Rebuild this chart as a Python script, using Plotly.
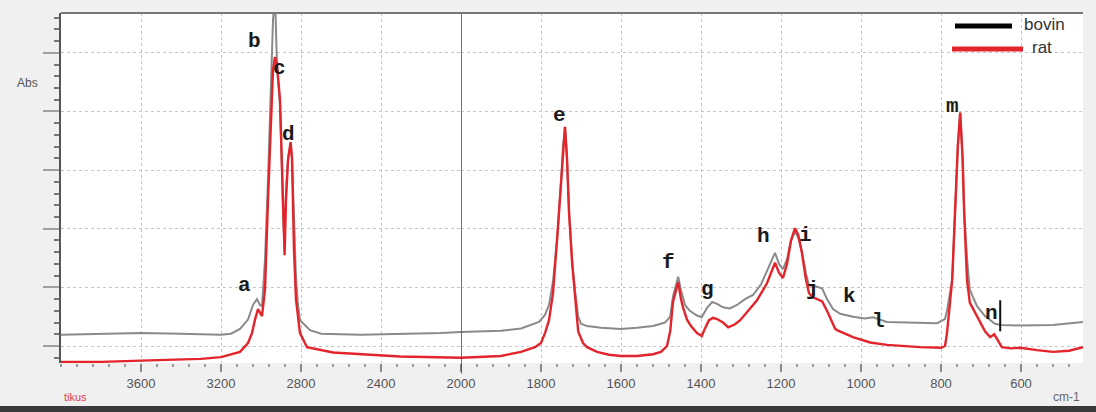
import plotly.graph_objects as go

# FTIR absorbance spectra (wavenumber in cm-1, absorbance)
bovin_wn = [4000, 3800, 3600, 3400, 3300, 3200, 3150, 3105, 3065, 3040, 3020, 3005, 2995,
            2980, 2965, 2950, 2940, 2930, 2920, 2905, 2895, 2887, 2882, 2875, 2865, 2852,
            2845, 2835, 2825, 2815, 2805, 2755, 2700, 2500, 2300, 2100, 2000,
            1900, 1850, 1827, 1805, 1790, 1780, 1770, 1760, 1750, 1745, 1740, 1735, 1730,
            1722, 1715, 1707, 1700, 1685, 1650, 1600, 1560, 1520, 1490, 1477, 1470, 1457,
            1450, 1440, 1428, 1410, 1398, 1385, 1372, 1360, 1345, 1328, 1310, 1290, 1270,
            1250, 1235, 1215, 1205, 1195, 1185, 1175, 1165, 1157, 1148, 1138, 1130, 1120,
            1105, 1097, 1085, 1070, 1052, 1020, 990, 970, 935, 852, 810, 790, 785, 772,
            765, 758, 752, 746, 742, 735, 728, 710, 690, 665, 650, 600, 520, 480, 445]
bovin_abs = [0.119, 0.120, 0.122, 0.121, 0.120, 0.119, 0.121, 0.129, 0.145, 0.170, 0.180, 0.170, 0.168,
             0.247, 0.383, 0.554, 0.656, 0.699, 0.580, 0.510, 0.400, 0.300, 0.290, 0.360, 0.420, 0.445,
             0.420, 0.300, 0.215, 0.170, 0.144, 0.127, 0.121, 0.119, 0.120, 0.122, 0.124,
             0.126, 0.130, 0.136, 0.141, 0.153, 0.170, 0.210, 0.280, 0.380, 0.440, 0.474, 0.420, 0.329,
             0.245, 0.195, 0.150, 0.138, 0.134, 0.131, 0.129, 0.131, 0.134, 0.140, 0.150, 0.185, 0.218,
             0.195, 0.170, 0.160, 0.152, 0.149, 0.165, 0.175, 0.172, 0.166, 0.164, 0.170, 0.180, 0.187,
             0.205, 0.228, 0.259, 0.240, 0.231, 0.248, 0.280, 0.295, 0.285, 0.262, 0.225, 0.203, 0.203,
             0.200, 0.198, 0.180, 0.163, 0.155, 0.150, 0.147, 0.149, 0.141, 0.139, 0.139, 0.146, 0.160, 0.213,
             0.327, 0.440, 0.498, 0.420, 0.327, 0.250, 0.196, 0.168, 0.151, 0.138, 0.136, 0.135, 0.136, 0.138, 0.141]

rat_wn = [4000, 3800, 3600, 3400, 3300, 3200, 3105, 3065, 3045, 3030, 3015, 2995, 2980,
          2965, 2950, 2940, 2930, 2920, 2905, 2895, 2887, 2882, 2875, 2865, 2852, 2845,
          2835, 2825, 2805, 2770, 2640, 2305, 2000,
          1900, 1850, 1815, 1800, 1790, 1780, 1770, 1760, 1750, 1745, 1740, 1735, 1730,
          1722, 1715, 1707, 1695, 1685, 1660, 1630, 1600, 1560, 1520, 1500, 1485, 1477,
          1470, 1457, 1450, 1445, 1435, 1425, 1410, 1398, 1390, 1380, 1370, 1360, 1345,
          1332, 1315, 1302, 1260, 1235, 1215, 1205, 1195, 1185, 1175, 1165, 1157, 1148,
          1138, 1130, 1120, 1105, 1097, 1085, 1077, 1065, 1060, 1020, 977, 935, 852, 800,
          790, 785, 772, 765, 758, 752, 746, 742, 735, 728, 702, 690, 677, 667, 660, 648,
          625, 602, 560, 520, 480, 445]
rat_abs = [0.073, 0.073, 0.075, 0.077, 0.078, 0.081, 0.090, 0.105, 0.122, 0.145, 0.163, 0.151, 0.196,
           0.349, 0.486, 0.571, 0.593, 0.580, 0.520, 0.400, 0.281, 0.255, 0.349, 0.417, 0.448, 0.420,
           0.264, 0.179, 0.122, 0.098, 0.089, 0.082, 0.080,
           0.083, 0.090, 0.098, 0.105, 0.122, 0.144, 0.190, 0.280, 0.380, 0.440, 0.474, 0.420, 0.329,
           0.240, 0.180, 0.125, 0.105, 0.098, 0.090, 0.085, 0.083, 0.083, 0.086, 0.090, 0.100, 0.125,
           0.175, 0.209, 0.180, 0.166, 0.145, 0.134, 0.122, 0.117, 0.130, 0.144, 0.148, 0.146, 0.140,
           0.132, 0.137, 0.144, 0.178, 0.207, 0.242, 0.225, 0.216, 0.240, 0.280, 0.301, 0.290, 0.260,
           0.215, 0.190, 0.183, 0.178, 0.176, 0.160, 0.148, 0.130, 0.127, 0.115, 0.106, 0.102, 0.098, 0.097,
           0.100, 0.122, 0.213, 0.327, 0.440, 0.498, 0.420, 0.327, 0.213, 0.174, 0.139, 0.125, 0.115, 0.120,
           0.112, 0.098, 0.096, 0.097, 0.093, 0.090, 0.092, 0.098]

# Band letters and where they are written (wavenumber, absorbance)
band_labels = ["a", "b", "c", "d", "e", "f", "g", "h", "i", "j", "k", "l", "m", "n"]
band_wn = [3085, 3035, 2910, 2865, 1755, 1482, 1385, 1245, 1140, 1122, 1030, 957, 772, 675]
band_abs = [0.204, 0.619, 0.574, 0.460, 0.494, 0.242, 0.196, 0.286, 0.289, 0.196, 0.184, 0.141, 0.508, 0.156]

# Axis break: high-wavenumber panel 4000-2000, low-wavenumber panel 2000-445
BREAK = 2000
left_ticks = [3600, 3200, 2800, 2400]
right_ticks = [2000, 1800, 1600, 1400, 1200, 1000, 800, 600]

W, H = 1096, 412
ML, MR, MT, MB = 61, 13, 13, 49
PW, PH = W - ML - MR, H - MT - MB
SPLIT = 400 / PW


def px(xp):
    return (xp - ML) / PW


def py(yp):
    return (H - MB - yp) / PH


def split(wn, ab, high):
    pts = [(w, a) for w, a in zip(wn, ab) if (w >= BREAK if high else w <= BREAK)]
    return [p[0] for p in pts], [p[1] for p in pts]


GRAY = "#8a8a8a"
RED = "#e3242b"

fig = go.Figure()
for name, wn, ab, color, width in [("bovin", bovin_wn, bovin_abs, GRAY, 2),
                                    ("rat", rat_wn, rat_abs, RED, 2.4)]:
    for high, xa in [(True, "x"), (False, "x2")]:
        xs, ys = split(wn, ab, high)
        fig.add_trace(go.Scatter(x=xs, y=ys, mode="lines", name=name, xaxis=xa, yaxis="y",
                                 line=dict(color=color, width=width), showlegend=False,
                                 hoverinfo="skip"))

for lab, w, a in zip(band_labels, band_wn, band_abs):
    fig.add_annotation(x=w, y=a, text="<b>" + lab + "</b>", showarrow=False,
                       xref="x" if w > BREAK else "x2", yref="y",
                       font=dict(family="Liberation Mono", size=21, color="#1a1a1a"))

axis_common = dict(showgrid=True, gridcolor="#c4c4c4", griddash="dot", gridwidth=1.2,
                   zeroline=False, ticks="outside", ticklen=8, tickcolor="#888", tickwidth=1.5,
                   tickfont=dict(family="Arial", size=13, color="#555"), showline=False)

fig.update_layout(
    width=W, height=H, margin=dict(l=ML, r=MR, t=MT, b=MB),
    paper_bgcolor="#f0f0f0", plot_bgcolor="#ffffff",
    xaxis=dict(domain=[0, SPLIT], range=[4000, BREAK], tickmode="array", tickvals=left_ticks,
               ticktext=[str(t) for t in left_ticks], anchor="y",
               minor=dict(tick0=4000, dtick=80, ticks="outside", ticklen=3, tickcolor="#999",
                          showgrid=False),
               **axis_common),
    xaxis2=dict(domain=[SPLIT, 1], range=[BREAK, 445], tickmode="array", tickvals=right_ticks,
                ticktext=[str(t) for t in right_ticks], anchor="y",
                minor=dict(tick0=2000, dtick=40, ticks="outside", ticklen=3, tickcolor="#999",
                           showgrid=False),
                **axis_common),
    yaxis=dict(range=[0.071, 0.668], tick0=0.1, dtick=0.1, showticklabels=False,
               showgrid=True, gridcolor="#c4c4c4", griddash="dot", gridwidth=1.2, zeroline=False,
               ticks="outside", ticklen=16, tickwidth=2, tickcolor="#a0a0a0",
               showline=True, linecolor="#555", linewidth=2,
               minor=dict(dtick=0.02, ticks="outside", ticklen=5, tickcolor="#777",
                          showgrid=False)),
)

shapes = [
    # break line at 2000 cm-1
    dict(type="line", xref="x2", yref="paper", x0=BREAK, x1=BREAK, y0=-0.03, y1=1,
         line=dict(color="#444", width=1.5)),
    # top frame
    dict(type="line", xref="paper", yref="paper", x0=0, x1=1, y0=1, y1=1,
         line=dict(color="#777", width=2)),
    # marker beside band n
    dict(type="line", xref="x2", yref="y", x0=652, x1=652, y0=0.125, y1=0.178,
         line=dict(color="#111", width=2)),
    # legend swatches
    dict(type="line", xref="paper", yref="paper", x0=px(955), x1=px(1012), y0=py(26), y1=py(26),
         line=dict(color="#000", width=5)),
    dict(type="line", xref="paper", yref="paper", x0=px(952), x1=px(1023), y0=py(49), y1=py(49),
         line=dict(color=RED, width=5)),
    # dark rule along the bottom edge
    dict(type="rect", xref="paper", yref="paper", x0=px(0), x1=px(W), y0=py(412), y1=py(406),
         fillcolor="#3a3a3a", line=dict(width=0), layer="above"),
]
fig.update_layout(shapes=shapes)

texts = [
    ("bovin", 1022, 25, "left", 17, "#333", "Arial"),
    ("rat", 1030, 47, "left", 17, "#333", "Arial"),
    ("Abs", 27, 83, "center", 12, "#555", "Arial"),
    ("tikus", 75, 397, "center", 11, "#e84040", "Arial"),
    ("cm-1", 1066, 397, "center", 12, "#666", "Arial"),
]
for t, xp, yp, anchor, size, color, fam in texts:
    fig.add_annotation(x=px(xp), y=py(yp), xref="paper", yref="paper", text=t, showarrow=False,
                       xanchor=anchor, yanchor="middle",
                       font=dict(family=fam, size=size, color=color))

fig.write_html("out.html")
